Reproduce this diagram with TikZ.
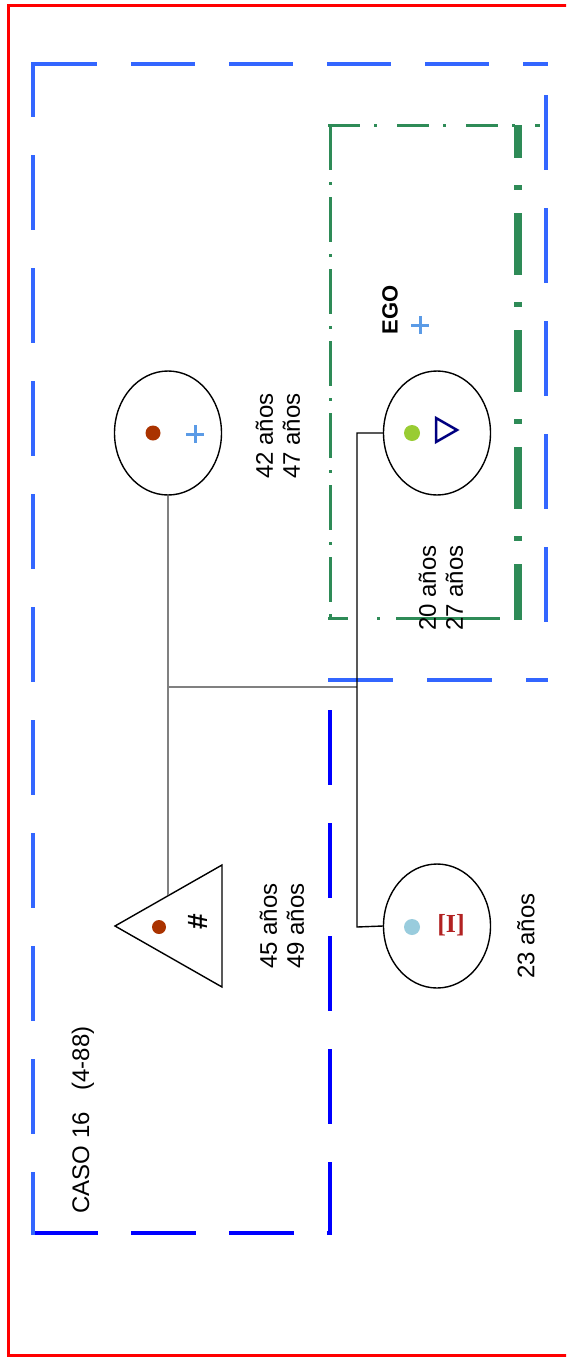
\documentclass[tikz,border=0pt]{standalone}
\usepackage{fontspec}
\setmainfont{Liberation Sans}
\newfontfamily\serifx{Liberation Serif}
\usetikzlibrary{shapes.geometric}
\definecolor{bordred}{RGB}{255,0,0}
\definecolor{blueA}{RGB}{51,102,255}
\definecolor{blueB}{RGB}{0,0,255}
\definecolor{greenA}{RGB}{46,139,87}
\definecolor{brownd}{RGB}{170,51,0}
\definecolor{limed}{RGB}{153,204,51}
\definecolor{skyd}{RGB}{153,204,221}
\definecolor{plusb}{RGB}{91,155,230}
\definecolor{navyt}{RGB}{0,0,128}
\definecolor{redx}{RGB}{178,34,34}
\begin{document}
\begin{tikzpicture}[x=1pt,y=-1pt,
  person/.style={draw=black, line width=1.4pt, ellipse, minimum width=107pt, minimum height=124pt, inner sep=0pt},
  lbl/.style={font=\fontsize{24}{27}\selectfont, rotate=90, align=left, inner sep=0pt},
  gline/.style={draw=black!50, line width=2pt},
  bline/.style={draw=black, line width=1.4pt},
  bdash/.style={line width=4pt},
  gdash/.style={draw=greenA, line width=3pt},
  plussign/.style={draw=plusb, line width=3pt}]
\useasboundingbox (0,0) rectangle (566,1357);
\clip (0,0) rectangle (566,1357);
% red border
\draw[bordred, line width=3pt] (8,5) rectangle (620,1355);
% blue dashed L-shaped frame
\draw[bdash, blueA, dash pattern=on 64pt off 34pt] (33,64) -- (548,64);
\draw[bdash, blueA, line width=3.5pt, dash pattern=on 75pt off 38pt] (546,95) -- (546,640);
\draw[bdash, blueA, dash pattern=on 65pt off 34pt] (328,680) -- (548,680);
\draw[bdash, blueB, dash pattern=on 75pt off 38pt] (330,710) -- (330,1235);
\draw[bdash, blueB, dash pattern=on 65pt off 33pt] (33,1233) -- (332,1233);
\draw[bdash, blueA, dash pattern=on 75pt off 38pt, dash phase=20pt] (33,62) -- (33,1235);
% green dash-dot frame
\draw[gdash, dash pattern=on 32pt off 14pt on 3pt off 20pt] (328,125) -- (540,125);
\draw[gdash, dash pattern=on 45pt off 12pt on 3pt off 12pt] (330,125) -- (330,618);
\draw[gdash, dash pattern=on 20pt off 29pt on 3pt off 16pt on 104pt off 20pt] (328,618) -- (518,618);
\draw[greenA, line width=8pt, dash pattern=on 62pt off 27pt on 5pt off 23pt, dash phase=29pt] (518,125) -- (518,620);
% persons
\node[person] (mother) at (168,433) {};
\node[person] (ego) at (437,433) {};
\node[person] (sib) at (437,926) {};
\draw[line width=1.4pt, line join=miter] (115,926) -- (222,865) -- (222,987) -- cycle;
\coordinate (fatherTop) at (168,895);
% symbols
\fill[brownd] (153,433) circle (7.5pt);
\draw[plussign] (186,434) -- (204,434) (195,425) -- (195,443);
\fill[brownd] (159,927) circle (7pt);
\node[font=\fontsize{28}{28}\selectfont\bfseries, rotate=90, inner sep=0pt] (hash) at (198,922) {\#};
\fill[limed] (412,433) circle (8pt);
\draw[navyt, line width=2.5pt, line join=miter] (436,418) -- (457,430) -- (436,442) -- cycle;
\fill[skyd] (412,927) circle (8pt);
\node[font=\fontsize{26}{26}\selectfont\serifx\bfseries, text=redx, inner sep=0pt] (xmark) at (451,925) {{[}I{]}};
\draw[plussign] (411,325) -- (429,325) (420,316) -- (420,334);
% texts
\node[lbl] (ageM) at (278,436) {42 años\\47 años};
\node[lbl] (ageF) at (282,926) {45 años\\49 años};
\node[lbl] (ageE) at (441,588) {20 años\\27 años};
\node[lbl] (ageS) at (526,936) {23 años};
\node[lbl, font=\fontsize{22}{26}\selectfont\bfseries] (egolbl) at (390,310) {EGO};
\node[lbl] (caso) at (83,1120) {CASO 16\hspace{0.9em}(4-88)};
% connectors
\coordinate (junc) at (168,687);
\coordinate (sibTop) at (357,433);
\coordinate (sibBot) at (357,927);
\draw[gline] (mother.south) -- (fatherTop);
\draw[gline] (junc) -- (sibTop |- junc);
\draw[bline] (ego.west) -- (sibTop) -- (sibBot) -- (sib.west);
\end{tikzpicture}
\end{document}
